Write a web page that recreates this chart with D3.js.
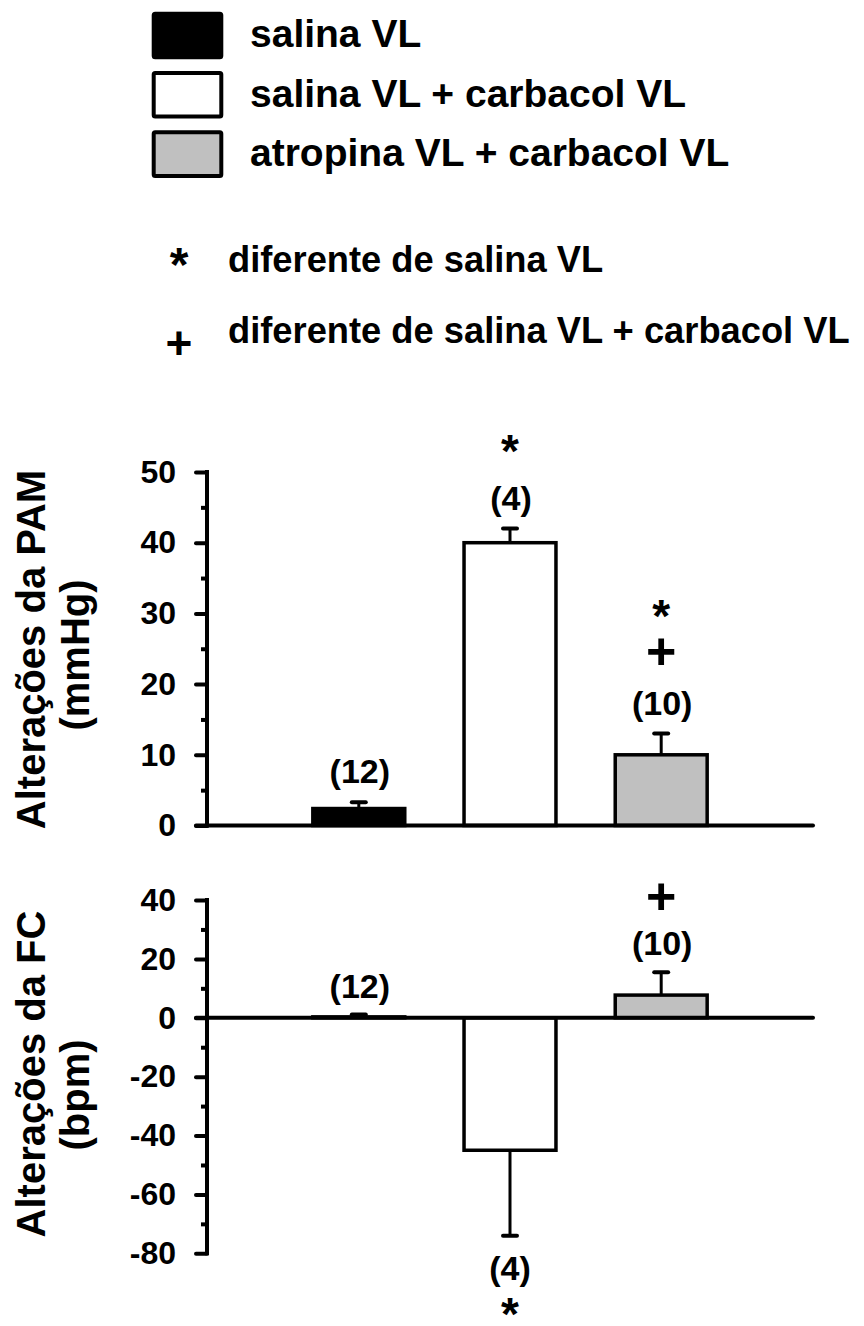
<!DOCTYPE html>
<html>
<head>
<meta charset="utf-8">
<script src="https://cdn.jsdelivr.net/npm/d3@7"></script>
<style>
  body { margin: 0; background: #fff; }
  text { font-family: "Liberation Sans", Arial, sans-serif; font-weight: bold; fill: #000; }
</style>
</head>
<body>
<div id="chart"></div>
<script>
// groups and their fills
var groups = ["salina VL", "salina VL + carbacol VL", "atropina VL + carbacol VL"];
var fills = ["#000000", "#ffffff", "#c0c0c0"];
var nLabels = ["(12)", "(4)", "(10)"];

// PAM (mmHg)
var pamMean = [2.4, 40, 10];
var pamErr = [0.9, 2, 3];
var pamStar = [false, true, true];
var pamPlus = [false, false, true];
var pamTicks = [0, 10, 20, 30, 40, 50];

// FC (bpm)
var fcMean = [0.3, -45, 7.7];
var fcErr = [0.8, 29, 7.8];
var fcStar = [false, true, false];
var fcPlus = [false, false, true];
var fcTicks = [-80, -60, -40, -20, 0, 20, 40];

var notes = [["*", "diferente de salina VL"], ["+", "diferente de salina VL + carbacol VL"]];

var W = 864, H = 1326;
var svg = d3.select("#chart").append("svg").attr("width", W).attr("height", H);
svg.append("rect").attr("width", W).attr("height", H).attr("fill", "#fff");

var axisX = 207;
var x = d3.scaleBand().domain(groups).range([axisX, 813]).paddingInner(0.392).paddingOuter(0.7);

// legend
var leg = svg.append("g");
groups.forEach(function(g, i) {
    leg.append("rect")
        .attr("x", 153.7).attr("y", 13.7 + i * 59.3)
        .attr("width", 67.6).attr("height", 43.6)
        .attr("fill", fills[i]).attr("stroke", "#000").attr("stroke-width", 4)
        .attr("rx", 1.5);
    leg.append("text")
        .attr("x", 250).attr("y", 47 + i * 59.5)
        .style("font-size", "39px")
        .text(g);
});

// notes
notes.forEach(function(n, i) {
    var baseY = 272 + i * 70.5;
    if (n[0] == "*") {
        svg.append("text").attr("x", 179).attr("y", 253 + 0.58 * 48)
            .attr("text-anchor", "middle").style("font-size", "48px").text("*");
    } else {
        svg.append("text").attr("x", 179).attr("y", 343 + 0.345 * 46)
            .attr("text-anchor", "middle").style("font-size", "46px").text("+");
    }
    svg.append("text").attr("x", 228).attr("y", baseY)
        .style("font-size", "36.3px").text(n[1]);
});

function drawPanel(opt) {
    var y = d3.scaleLinear().domain(opt.domain).range(opt.range);
    var g = svg.append("g");

    // minor ticks
    var minor = d3.range(opt.domain[0] + opt.step / 2, opt.domain[1], opt.step);
    g.append("g").attr("transform", "translate(" + axisX + ",0)")
        .call(d3.axisLeft(y).tickValues(minor).tickSize(6).tickFormat(""))
        .call(function(a) {
            a.select(".domain").remove();
            a.selectAll("line").attr("stroke-width", 4);
        });

    // major ticks + labels
    g.append("g").attr("transform", "translate(" + axisX + ",0)")
        .call(d3.axisLeft(y).tickValues(opt.ticks).tickSize(11).tickPadding(20)
            .tickFormat(function(d) { return String(d); }))
        .call(function(a) {
            a.select(".domain").remove();
            a.selectAll("line").attr("stroke-width", 4).attr("stroke-linecap", "round");
            a.selectAll("text").style("font-size", "32px")
                .style("font-family", "'Liberation Sans', Arial, sans-serif")
                .style("font-weight", "bold");
        });

    // vertical axis line
    g.append("line")
        .attr("x1", axisX).attr("x2", axisX)
        .attr("y1", y(opt.domain[1])).attr("y2", y(opt.domain[0]))
        .attr("stroke", "#000").attr("stroke-width", 4).attr("stroke-linecap", "square");

    // bars
    var cx = function(i) { return x(groups[i]) + x.bandwidth() / 2; };
    opt.mean.forEach(function(v, i) {
        var top = Math.min(y(v), y(0)), bot = Math.max(y(v), y(0));
        var end = y(v + (v >= 0 ? 1 : -1) * opt.err[i]);
        g.append("line")
            .attr("x1", cx(i)).attr("x2", cx(i))
            .attr("y1", y(v)).attr("y2", end)
            .attr("stroke", "#000").attr("stroke-width", 3);
        g.append("line")
            .attr("x1", cx(i) - 7).attr("x2", cx(i) + 7)
            .attr("y1", end).attr("y2", end)
            .attr("stroke", "#000").attr("stroke-width", 4).attr("stroke-linecap", "round");
        g.append("rect")
            .attr("x", x(groups[i])).attr("width", x.bandwidth())
            .attr("y", top).attr("height", Math.max(bot - top, 0.5))
            .attr("fill", fills[i]).attr("stroke", "#000").attr("stroke-width", 3.5);

        // annotations
        var nBase, plusY, starY;
        if (v >= 0) {
            nBase = end - opt.gap;
            g.append("text").attr("x", cx(i) + 1).attr("y", nBase)
                .attr("text-anchor", "middle").style("font-size", "34px").text(nLabels[i]);
            if (opt.plus[i]) {
                plusY = nBase - opt.plusOff;
                g.append("text").attr("x", cx(i)).attr("y", plusY + 0.345 * 52)
                    .attr("text-anchor", "middle").style("font-size", "52px").text("+");
            }
            if (opt.star[i]) {
                starY = opt.plus[i] ? plusY - 45 : nBase - 69;
                g.append("text").attr("x", cx(i)).attr("y", starY + 0.58 * 46)
                    .attr("text-anchor", "middle").style("font-size", "46px").text("*");
            }
        } else {
            nBase = end + 44;
            g.append("text").attr("x", cx(i)).attr("y", nBase)
                .attr("text-anchor", "middle").style("font-size", "34px").text(nLabels[i]);
            if (opt.star[i]) {
                g.append("text").attr("x", cx(i)).attr("y", nBase + 24 + 0.58 * 46)
                    .attr("text-anchor", "middle").style("font-size", "46px").text("*");
            }
        }
    });

    // horizontal zero line
    g.append("line")
        .attr("x1", axisX - 11).attr("x2", 813)
        .attr("y1", y(0)).attr("y2", y(0))
        .attr("stroke", "#000").attr("stroke-width", 4).attr("stroke-linecap", "round");

    // y title
    g.append("text")
        .attr("transform", "translate(45," + opt.t1 + ") rotate(-90)")
        .attr("text-anchor", "middle").style("font-size", "40px").text(opt.title);
    g.append("text")
        .attr("transform", "translate(89," + opt.t2 + ") rotate(-90)")
        .attr("text-anchor", "middle").style("font-size", "40px").text(opt.unit);
}

drawPanel({
    domain: [0, 50], range: [825.5, 472], step: 10, ticks: pamTicks,
    mean: pamMean, err: pamErr, star: pamStar, plus: pamPlus,
    gap: 19, plusOff: 64,
    title: "Alterações da PAM", unit: "(mmHg)", t1: 649.5, t2: 655
});

drawPanel({
    domain: [-80, 40], range: [1253.3, 900], step: 20, ticks: fcTicks,
    mean: fcMean, err: fcErr, star: fcStar, plus: fcPlus,
    gap: 17, plusOff: 59,
    title: "Alterações da FC", unit: "(bpm)", t1: 1074, t2: 1095
});
</script>
</body>
</html>
